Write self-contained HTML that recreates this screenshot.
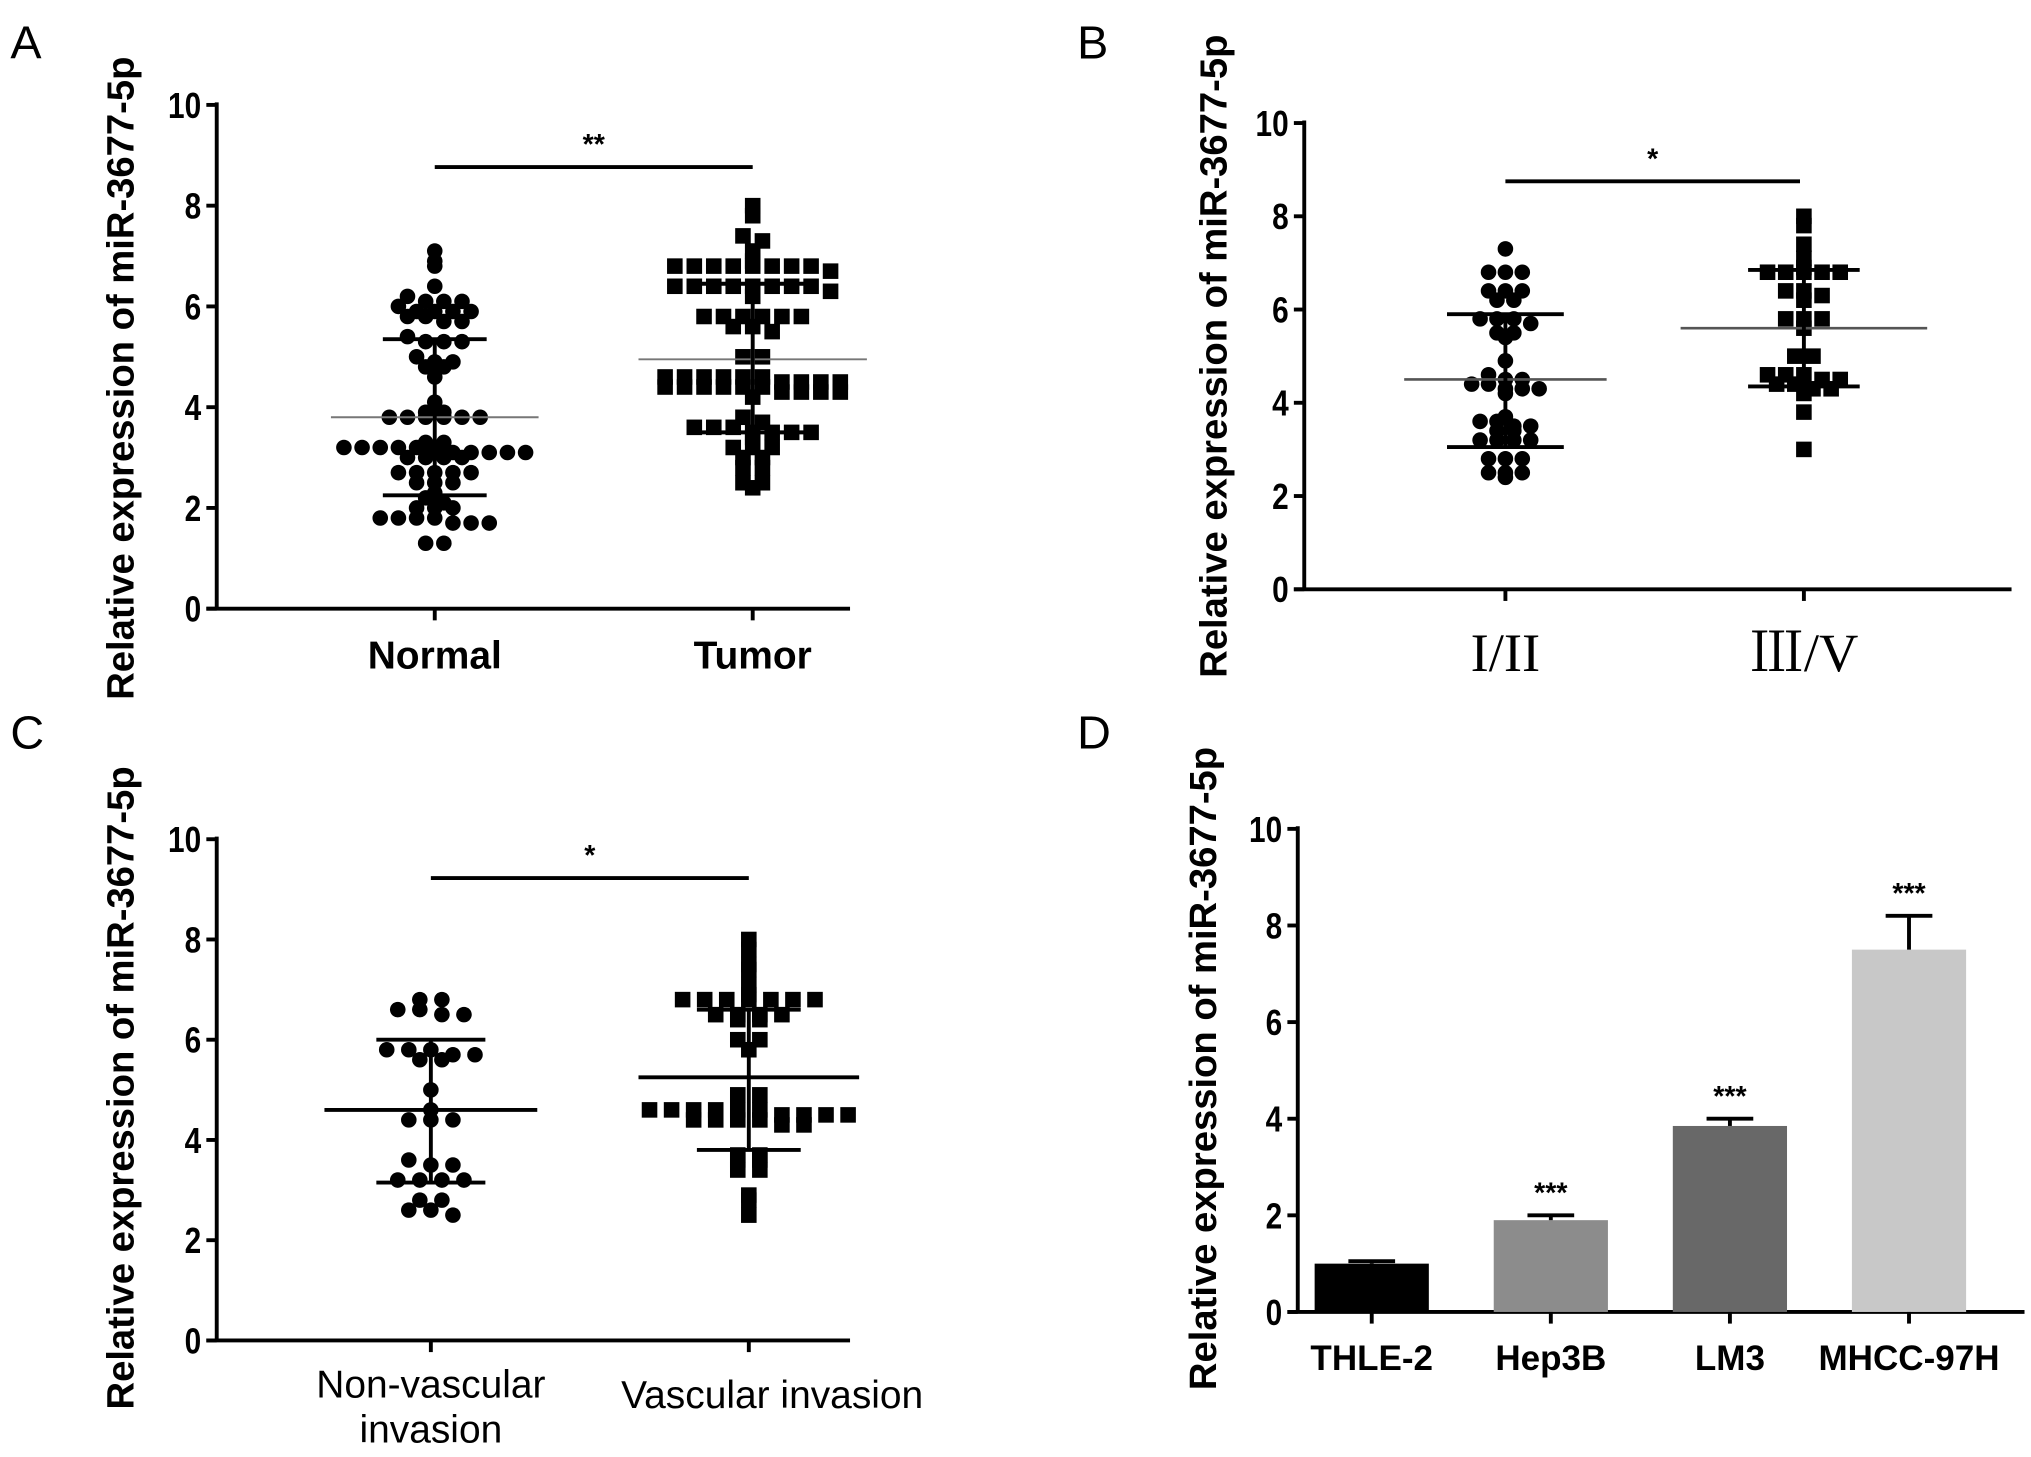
<!DOCTYPE html>
<html><head><meta charset="utf-8"><style>
html,body{margin:0;padding:0;background:#fff;}
svg{display:block;}
text{font-family:"Liberation Sans",sans-serif;}
</style></head><body>
<svg id="fig" width="2031" height="1457" viewBox="0 0 1565 1125" preserveAspectRatio="none" xmlns="http://www.w3.org/2000/svg"></svg>
<script>
// ---- data ----
const aNormal=[7.1,6.9,6.8,6.4,6.2,6.1,6.1,6.1,6.0,5.9,5.9,5.9,5.9,5.8,5.7,5.7,5.8,5.4,5.3,5.3,5.3,5.0,4.9,4.8,4.8,4.9,4.6,4.1,3.9,3.9,3.8,3.8,3.8,3.8,3.8,3.8,3.3,3.3,3.2,3.2,3.2,3.2,3.2,3.1,3.1,3.1,3.1,3.1,3.1,3.0,3.0,3.0,3.0,2.7,2.7,2.7,2.7,2.7,2.5,2.5,2.5,2.3,2.2,2.1,2.0,2.0,2.0,1.8,1.8,1.8,1.7,1.7,1.7,1.8,1.3,1.3];
const aTumor=[8.0,7.8,7.4,7.3,7.1,6.9,6.8,6.8,6.8,6.8,6.7,6.8,6.8,6.8,6.8,6.4,6.4,6.4,6.4,6.3,6.2,6.4,6.4,6.4,6.4,5.8,5.8,5.8,5.8,5.8,5.8,5.6,5.5,5.6,5.0,5.0,4.6,4.6,4.6,4.6,4.6,4.6,4.5,4.5,4.5,4.5,4.4,4.4,4.4,4.4,4.4,4.4,4.3,4.3,4.3,4.3,4.2,3.8,3.7,3.6,3.6,3.6,3.5,3.5,3.5,3.5,3.4,3.2,3.2,3.2,3.0,3.0,2.8,2.8,2.5,2.4,2.5];
const aStats=[[3.8,5.35,2.25],[4.95,6.45,3.5]];
const bEarly=[7.3,6.8,6.8,6.8,6.4,6.4,6.2,6.2,6.4,5.8,5.8,5.7,5.5,5.4,5.5,5.8,4.9,4.6,4.5,4.4,4.3,4.2,4.3,4.3,4.4,4.5,3.7,3.6,3.5,3.4,3.2,3.2,3.2,3.2,3.4,3.5,3.6,2.8,2.8,2.8,2.5,2.4,2.5,2.5];
const bLate=[8.0,7.8,7.4,7.1,6.9,6.8,6.8,6.8,6.8,6.8,6.4,6.3,6.2,6.4,5.8,5.8,5.8,5.6,5.0,5.0,4.6,4.6,4.5,4.4,4.3,4.2,4.3,4.4,4.5,4.6,3.8,3.0];
const bStats=[[4.5,5.9,3.05],[5.6,6.85,4.35]];
const cNon=[6.8,6.8,6.6,6.5,6.5,6.6,5.8,5.8,5.7,5.6,5.6,5.7,5.8,5.0,4.6,4.4,4.4,4.4,3.6,3.5,3.5,3.2,3.2,3.2,3.2,2.8,2.8,2.6,2.5,2.6];
const cVas=[8.0,7.8,7.4,7.5,7.1,6.9,6.8,6.8,6.8,6.8,6.8,6.8,6.8,6.5,6.5,6.4,6.4,6.5,6.5,6.0,6.0,5.8,4.9,4.9,4.6,4.6,4.6,4.6,4.6,4.6,4.5,4.5,4.5,4.5,4.4,4.4,4.4,4.4,4.3,4.3,3.7,3.6,3.7,3.6,3.4,3.4,2.9,2.8,2.5];
const cStats=[[4.6,6.0,3.15],[5.25,6.6,3.8]];
const dCats=["THLE-2","Hep3B","LM3","MHCC-97H"];
const dVals=[1.0,1.9,3.85,7.5];
const dErr=[0.05,0.1,0.15,0.7];
const dSig=["","***","***","***"];
const yTicks=[0,2,4,6,8,10];

const NS="http://www.w3.org/2000/svg";
const svg=document.getElementById('fig');
function el(tag,attrs,parent,txt){const e=document.createElementNS(NS,tag);for(const k in attrs)e.setAttribute(k,attrs[k]);if(txt!==undefined)e.textContent=txt;(parent||svg).appendChild(e);return e;}

function axes(p){
  const g=el('g',{});
  
  
  const y=v=>p.y0-(p.y0-p.y10)*v/10;
  const ax=el('line',{x1:p.x0,y1:p.y10-2,x2:p.x0,y2:p.y0,stroke:'#000','stroke-width':3},g);
  
  const bx=el('line',{x1:p.x0-8,y1:p.y0,x2:p.xEnd,y2:p.y0,stroke:'#000','stroke-width':3},g);
  
  yTicks.forEach(t=>{
    el('line',{x1:p.x0-8,y1:y(t),x2:p.x0,y2:y(t),stroke:'#000','stroke-width':3},g);
    const tl=el('text',{x:p.x0-12,y:y(t)+10,'text-anchor':'end','font-size':28,'font-weight':'bold',transform:`translate(${p.x0-12},0) scale(0.82,1) translate(${-(p.x0-12)},0)`},g,String(t));
    
  });
  const yl=el('text',{x:0,y:0,'text-anchor':'middle','font-size':29.5,'font-weight':'bold',transform:`translate(${p.ylx},${p.yly}) rotate(-90)`},g,'Relative expression of miR-3677-5p');
  
  const lt=el('text',{x:p.lx,y:p.ly,'font-size':36},g,p.letter);
  
  return {g,y};
}

function swarm(vals,cx,y,g,shape,sp){
  const bins={};
  vals.slice().sort((a,b)=>b-a).forEach(v=>{const k=Math.round(v*5);(bins[k]=bins[k]||[]).push(v);});
  Object.values(bins).forEach(arr=>{
    const n=arr.length;
    arr.forEach((v,i)=>{
      const off=(i-(n-1)/2)*sp;
      let m;
      if(shape==='c'){m=el('circle',{cx:cx+off,cy:y(v),r:6,fill:'#000'},g);}
      else{m=el('rect',{x:cx+off-6,y:y(v)-6,width:12,height:12,fill:'#000'},g);}
      
      
    });
  });
}
function stats(s,cx,y,g,meanHalf,sdHalf,meanColor,meanW){
  const ml=el('line',{x1:cx-meanHalf,x2:cx+meanHalf,y1:y(s[0]),y2:y(s[0]),stroke:meanColor,'stroke-width':meanW},g);
  
  const v=el('line',{x1:cx,x2:cx,y1:y(s[1]),y2:y(s[2]),stroke:'#000','stroke-width':3},g);
  
  [s[1],s[2]].forEach(t=>{el('line',{x1:cx-sdHalf,x2:cx+sdHalf,y1:y(t),y2:y(t),stroke:'#000','stroke-width':3},g);});
}
function sig(x1,x2,yy,txt,g){
  const l=el('line',{x1,x2,y1:yy,y2:yy,stroke:'#000','stroke-width':3},g);
  
  const t=el('text',{x:(x1+x2)/2,y:yy-10,'text-anchor':'middle','font-size':22,'font-weight':'bold'},g,txt);
  
}
function xtick(x,y0,g){el('line',{x1:x,x2:x,y1:y0,y2:y0+9,stroke:'#000','stroke-width':3},g);}

// Panel A
{const P={name:'panel-a',x0:167,y0:470,y10:81,xEnd:655,ylx:103,yly:292,letter:'A',lx:8,ly:45};
 const {g,y}=axes(P);
 swarm(aNormal,335,y,g,'c',14); swarm(aTumor,580,y,g,'s',15);
 stats(aStats[0],335,y,g,80,40,'#777',1.5); stats(aStats[1],580,y,g,88,45,'#777',1.5);
 xtick(335,470,g);xtick(580,470,g);
 sig(335,580,129,'**',g);
 ['Normal','Tumor'].forEach((c,i)=>{const t=el('text',{x:[335,580][i],y:516,'text-anchor':'middle','font-size':30,'font-weight':'bold'},g,c);});
}
// Panel B
{const P={name:'panel-b',x0:1005,y0:455,y10:95,xEnd:1550,ylx:945,yly:275,letter:'B',lx:830,ly:45};
 const {g,y}=axes(P);
 swarm(bEarly,1160,y,g,'c',13); swarm(bLate,1390,y,g,'s',14);
 stats(bStats[0],1160,y,g,78,45,'#555',2); stats(bStats[1],1390,y,g,95,43,'#555',2);
 xtick(1160,455,g);xtick(1390,455,g);
 sig(1160,1387,140,'*',g);
 ['I/II','Ⅲ/V'].forEach((c,i)=>{const t=el('text',{x:[1160,1390][i],y:518,'text-anchor':'middle','font-size':42,style:'font-family:"Liberation Serif","Noto Serif CJK SC",serif'},g,c);});
}
// Panel C
{const P={name:'panel-c',x0:167,y0:1035,y10:648,xEnd:655,ylx:103,yly:840,letter:'C',lx:8,ly:578};
 const {g,y}=axes(P);
 swarm(cNon,332,y,g,'c',17); swarm(cVas,577,y,g,'s',17);
 stats(cStats[0],332,y,g,82,42,'#000',3); stats(cStats[1],577,y,g,85,40,'#000',3);
 xtick(332,1035,g);xtick(577,1035,g);
 sig(332,577,678,'*',g);
 [['Non-vascular',332,1079],['invasion',332,1114],['Vascular invasion',595,1087]].forEach(a=>{const t=el('text',{x:a[1],y:a[2],'text-anchor':'middle','font-size':30},g,a[0]);});
}
// Panel D
{const P={name:'panel-d',x0:1000,y0:1013,y10:640,xEnd:1560,ylx:937,yly:825,letter:'D',lx:830,ly:578};
 const {g,y}=axes(P);
 const cols=['#000','#8c8c8c','#686868','#c8c8c8'];
 const xs=i=>1057+i*(1471-1057)/3;
 dVals.forEach((v,i)=>{
   const cx=xs(i);
   const b=el('rect',{x:cx-44,y:y(v),width:88,height:y(0)-y(v),fill:cols[i]},g);
   
   el('line',{x1:cx,x2:cx,y1:y(v),y2:y(v+dErr[i]),stroke:'#000','stroke-width':3},g);
   el('line',{x1:cx-18,x2:cx+18,y1:y(v+dErr[i]),y2:y(v+dErr[i]),stroke:'#000','stroke-width':3},g);
   if(dSig[i]){const s=el('text',{x:cx,y:y(v+dErr[i])-10,'text-anchor':'middle','font-size':22,'font-weight':'bold'},g,dSig[i]);}
   xtick(cx,1013,g);
   const t=el('text',{x:cx,y:1058,'text-anchor':'middle','font-size':27,'font-weight':'bold'},g,dCats[i]);
   
 });
}
</script>
</body></html>
